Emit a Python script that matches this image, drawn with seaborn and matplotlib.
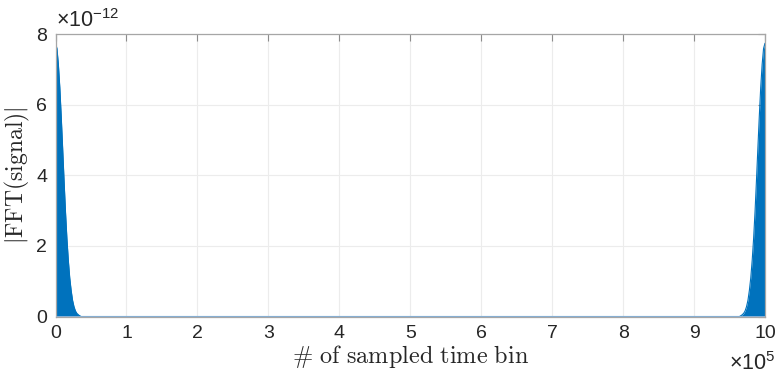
import numpy as np
import pandas as pd
import matplotlib
matplotlib.use("Agg")
import matplotlib.pyplot as plt
import seaborn as sns
from matplotlib.ticker import FixedLocator, FuncFormatter

# Magnitude spectrum |FFT(signal)|, sampled near the two edges of the bin range
# (values given in units of 1e-12)
bins_low = [0, 2000, 4000, 6000, 8000, 10000, 12000, 14000, 16000, 18000,
            20000, 22000, 24000, 26000, 28000, 30000, 33000, 36000]
mag_low_e12 = [7.75, 7.6, 7.15, 6.5, 5.68, 4.78, 3.86, 2.98, 2.22, 1.6,
               1.1, 0.74, 0.46, 0.28, 0.16, 0.09, 0.035, 0.0]

bins_high = [964000, 967000, 970000, 972000, 974000, 976000, 978000, 980000,
             982000, 984000, 986000, 988000, 990000, 992000, 994000, 996000,
             998000, 1000000]
mag_high_e12 = [0.0, 0.035, 0.09, 0.16, 0.28, 0.46, 0.74, 1.1, 1.6, 2.22,
                2.98, 3.86, 4.78, 5.68, 6.5, 7.15, 7.6, 7.75]

x_ticks = [0, 1e5, 2e5, 3e5, 4e5, 5e5, 6e5, 7e5, 8e5, 9e5, 10e5]
y_ticks = [0, 2e-12, 4e-12, 6e-12, 8e-12]

spec = pd.DataFrame({
    "bin": bins_low + bins_high,
    "mag": [v * 1e-12 for v in mag_low_e12 + mag_high_e12],
})

sns.set_theme(style="whitegrid")
plt.rcParams["font.family"] = ["Liberation Sans", "DejaVu Sans"]
plt.rcParams["mathtext.fontset"] = "custom"
plt.rcParams["mathtext.rm"] = "Liberation Sans"
plt.rcParams["mathtext.it"] = "Liberation Sans:italic"

fig = plt.figure(figsize=(7.79, 3.74), dpi=100)
ax = fig.add_axes([0.0713, 0.1537, 0.9107, 0.7543])

blue = "#0072BD"
ax.fill_between(spec["bin"], 0, spec["mag"], color=blue, lw=0)
sns.lineplot(data=spec, x="bin", y="mag", ax=ax, color=blue, lw=0.8,
             estimator=None, sort=True)
ax.axhline(0, color="#9fbad6", lw=1.2, zorder=3)

ax.set_xlim(0, 1e6)
ax.set_ylim(0, 8e-12)
ax.xaxis.set_major_locator(FixedLocator(x_ticks))
ax.yaxis.set_major_locator(FixedLocator(y_ticks))
ax.xaxis.set_major_formatter(FuncFormatter(lambda v, p: f"{v / 1e5:.0f}"))
ax.yaxis.set_major_formatter(FuncFormatter(lambda v, p: f"{v / 1e-12:.0f}"))

ax.grid(True, color="#ececec", lw=0.8)
for s in ax.spines.values():
    s.set_visible(True)
    s.set_color("#a6a6a6")
    s.set_linewidth(0.9)
ax.tick_params(axis="both", direction="in", length=5, width=0.8,
               color="#8c8c8c", labelsize=14, labelcolor="#262626", pad=6,
               top=True, right=True)

ax.set_xlabel(r"$\#\ \mathrm{of\ sampled\ time\ bin}$", fontsize=17.5,
              color="#262626", math_fontfamily="cm", labelpad=1)
ax.set_ylabel(r"$|\mathrm{FFT(signal)}|$", fontsize=17, color="#262626",
              math_fontfamily="cm", labelpad=3)

ax.text(0.0, 1.01, r"$\times10^{-12}$", transform=ax.transAxes,
        ha="left", va="bottom", fontsize=15.5, color="#262626")
ax.text(1.015, -0.125, r"$\times10^{5}$", transform=ax.transAxes,
        ha="right", va="top", fontsize=15.5, color="#262626")

fig.savefig("out.png", dpi=100, facecolor="white")
